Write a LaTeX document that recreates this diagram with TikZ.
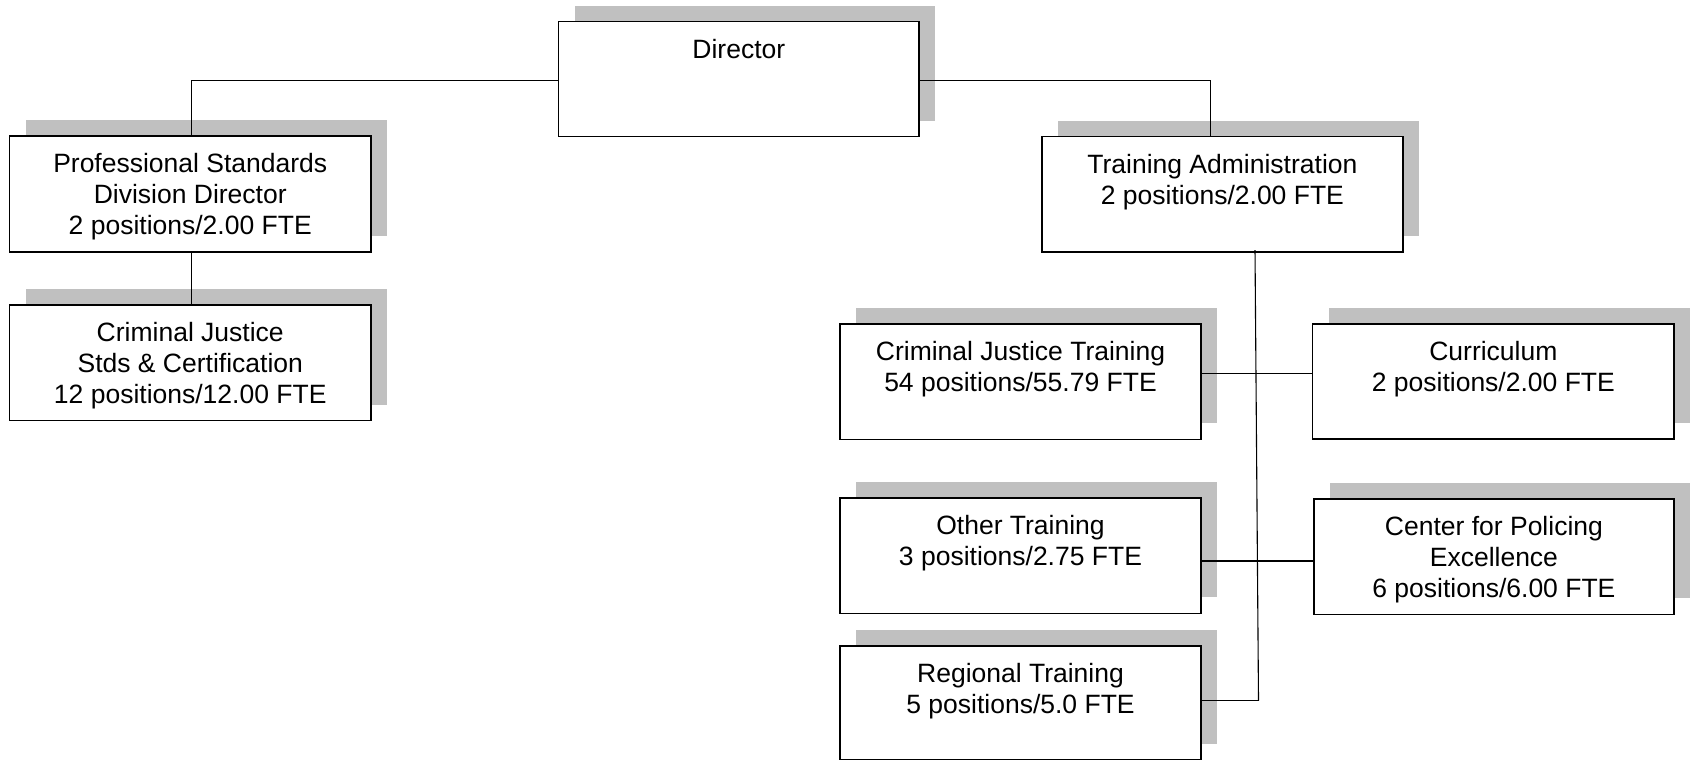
\documentclass[tikz,border=0pt]{standalone}
\usepackage{fontspec}
\setmainfont{Liberation Sans}
\definecolor{shadowgray}{HTML}{C0C0C0}
% \orgunit{name}{left}{top}{right}{bottom}{text}: a unit box with a drop shadow
\newcommand\orgunit[6]{%
  \fill[unitshadow] (#2+16,#3-16) rectangle (#4+16,#5-16);
  \node[orgbox, minimum width={(#4-#2)*1pt}, minimum height={(#5-#3)*1pt}] (#1) at (#2,#3) {};
  \node[boxtext] (#1-label) at ([yshift=-16.5pt]#1.north) {\rule{0pt}{20pt}#6};
}
\begin{document}
\begin{tikzpicture}[x=1pt,y=-1pt,
  orgbox/.style={draw=black, fill=white, line width=1.5pt, inner sep=0pt, outer sep=0pt, anchor=north west},
  boxtext/.style={anchor=north, align=center, inner sep=0pt, font=\fontsize{26.5pt}{30.7pt}\selectfont},
  link/.style={draw=black, line width=1.1pt},
  unitshadow/.style={fill=shadowgray}]
\path[use as bounding box] (0,0) rectangle (1691,761);
\clip (0,0) rectangle (1691,761);

\orgunit{dir}{558.6}{21.7}{919}{136.7}{Director}
\orgunit{psd}{9.7}{136}{370.8}{252}{Professional Standards\\Division Director\\2 positions/2.00 FTE}
\orgunit{cjs}{9.7}{305}{370.8}{420.7}{Criminal Justice\\Stds \& Certification\\12 positions/12.00 FTE}
\orgunit{ta}{1042}{136.7}{1402.8}{252}{Training Administration\\2 positions/2.00 FTE}
\orgunit{cjt}{840}{324}{1201}{439.3}{Criminal Justice Training\\54 positions/55.79 FTE}
\orgunit{cur}{1312.7}{324}{1674}{439}{Curriculum\\2 positions/2.00 FTE}
\orgunit{oth}{840}{498}{1201}{613.3}{Other Training\\3 positions/2.75 FTE}
\orgunit{cpe}{1313.8}{499}{1674}{614.3}{Center for Policing\\Excellence\\6 positions/6.00 FTE}
\orgunit{reg}{840}{646}{1201}{759.5}{Regional Training\\5 positions/5.0 FTE}

% reporting lines
\draw[link] ([yshift=-1.5pt]dir.west) -| ([xshift=1.2pt]psd.north);
\draw[link] ([yshift=-1.5pt]dir.east) -| ([xshift=-12pt]ta.north);
\draw[link] ([xshift=1.2pt]psd.south) -- ([xshift=1.2pt]cjs.north);

% training trunk
\coordinate (trunktop) at ([xshift=32.6pt,yshift=2pt]ta.south);
\coordinate (trunkbot) at (1258.5,700.7);
\draw[link] (trunktop) -- (trunkbot);
\draw[link] ([yshift=8pt]cjt.east) -- ([yshift=8pt]cjt.east -| cur.west);
\draw[link] ([yshift=-5.3pt]oth.east) -- ([yshift=-5.3pt]oth.east -| cpe.west);
\draw[link] (reg.east |- trunkbot) -- (trunkbot);
\end{tikzpicture}
\end{document}
